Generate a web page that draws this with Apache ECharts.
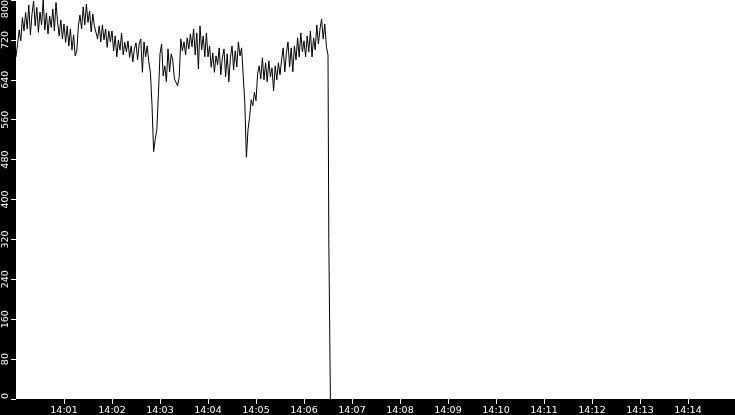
<!DOCTYPE html>
<html>
<head>
<meta charset="utf-8">
<script src="https://cdn.jsdelivr.net/npm/echarts@6/dist/echarts.min.js"></script>
<style>
html,body{margin:0;padding:0;background:#000;}
#chart{width:735px;height:415px;}
</style>
</head>
<body>
<div id="chart"></div>
<script>
// Time labels: start of axis and span (minutes)
const startHour = 14;
const startMinute = 0;
const axisSpanMinutes = 15;
const sampleStepSeconds = 2;

// Y axis range / ticks
const yMin = 0;
const yMax = 800;
const yStep = 80;

// Sampled values every 2 seconds from 14:00:00 to 14:06:30
const values = [
  686, 712, 740, 718, 765, 738, 775, 742, 790, 730,
  772, 798, 748, 785, 735, 776, 750, 800, 740, 774,
  732, 768, 745, 782, 738, 795, 755, 728, 760, 722,
  752, 715, 748, 708, 742, 700, 730, 688, 698, 748,
  770, 742, 786, 750, 792, 755, 778, 736, 772, 748,
  752, 722, 748, 716, 750, 720, 742, 705, 738, 716,
  738, 698, 728, 686, 720, 700, 734, 690, 715, 696,
  718, 685, 708, 676, 702, 714, 680, 712, 722, 655,
  716, 686, 708, 676, 655, 590, 496, 520, 540, 610,
  692, 712, 648, 668, 636, 702, 656, 692, 678, 642,
  640, 628, 645, 722, 698, 716, 690, 724, 702, 732,
  706, 742, 690, 734, 662, 748, 700, 728, 686, 734,
  686, 708, 665, 694, 655, 688, 670, 704, 650, 684,
  702, 646, 692, 636, 684, 708, 660, 698, 666, 716,
  688, 704, 700, 594, 485, 540, 565, 600, 588, 615,
  598, 652, 668, 642, 684, 640, 674, 636, 678, 646,
  664, 618, 668, 640, 674, 650, 680, 704, 656, 694,
  716, 666, 704, 656, 708, 680, 724, 686, 734, 696,
  718, 686, 728, 696, 738, 686, 724, 700, 750, 712,
  742, 762, 722, 752, 706, 690
];
// Final readings when the signal drops out
const tailSeconds = [391, 393];
const tailValues = [320, 0];

const data = values.map((v, i) => [i * sampleStepSeconds, v])
  .concat(tailSeconds.map((s, i) => [s, tailValues[i]]));

function pad(n){ return (n < 10 ? '0' : '') + n; }
function timeLabel(sec){
  const total = startHour * 60 + startMinute + Math.round(sec / 60);
  return Math.floor(total / 60) + ':' + pad(total % 60);
}

const chart = echarts.init(document.getElementById('chart'), null, {renderer: 'canvas'});
chart.setOption({
  backgroundColor: '#000',
  animation: false,
  grid: {
    left: 16, right: -1, top: 0, bottom: 16,
    containLabel: false,
    outerBoundsMode: 'none',
    show: true, backgroundColor: '#fff', borderWidth: 0
  },
  xAxis: {
    type: 'value',
    min: 0,
    max: axisSpanMinutes * 60,
    interval: 60,
    axisLine: {show: false},
    axisTick: {show: true, length: 5, lineStyle: {color: '#fff', width: 1}},
    splitLine: {show: false},
    axisLabel: {
      color: '#fff',
      fontSize: 9.5,
      fontFamily: 'DejaVu Sans',
      margin: 7,
      showMinLabel: false,
      showMaxLabel: false,
      formatter: timeLabel
    }
  },
  yAxis: {
    type: 'value',
    min: yMin,
    max: yMax,
    interval: yStep,
    axisLine: {show: false},
    axisTick: {show: true, length: 5, lineStyle: {color: '#fff', width: 1}},
    splitLine: {show: false},
    axisLabel: {
      color: '#fff',
      fontSize: 9.5,
      fontFamily: 'DejaVu Sans',
      rotate: 90,
      margin: 10,
      align: 'center',
      verticalAlign: 'middle',
      alignMinLabel: 'left',
      alignMaxLabel: 'right'
    }
  },
  series: [{
    type: 'line',
    data: data,
    showSymbol: false,
    symbol: 'none',
    lineStyle: {color: '#000', width: 1},
    itemStyle: {color: '#000'}
  }]
});
</script>
</body>
</html>
